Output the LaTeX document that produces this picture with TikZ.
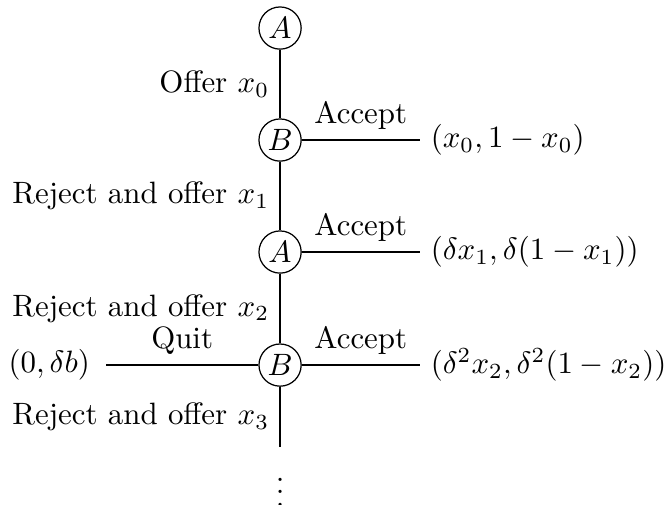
\documentclass[tikz,border=0pt]{standalone}
\usetikzlibrary{positioning}

\begin{document}
\begin{tikzpicture}[player/.style={circle,draw,inner sep=0pt,minimum size=0.48cm}]
		
		\useasboundingbox (-3.186,0.319) rectangle (4.379,-5.415);
		
		\node[player] (a0) at (0,0) {$A$};
		
		\node[player] (b1) at (0,-1.274) {$B$};
		
		\node[player] (a2) at (0,-2.548) {$A$};
		
		\node[player] (b3) at (0,-3.834) {$B$};
		
		\coordinate (tail) at (0,-4.767);
		
		\node[anchor=base,inner sep=0pt] (dots) at (0,-5.44) {$\vdots$};
		
		\draw (a0) -- node[left] {Offer $x_0$} (b1);
		
		\draw (b1) -- node[left] {Reject and offer $x_1$} (a2);
		
		\draw (a2) -- node[left] {Reject and offer $x_2$} (b3);
		
		\draw (b3) -- node[left] {Reject and offer $x_3$} (tail);
		
		\node[right] (p1) at (1.59,-1.274) {$(x_0,1-x_0)$};
		
		\node[right] (p2) at (1.59,-2.548) {$(\delta x_1,\delta(1-x_1))$};
		
		\node[right] (p3) at (1.59,-3.834) {$(\delta^2 x_2,\delta^2(1-x_2))$};
		
		\node[left,inner sep=5pt] (q3) at (-1.98,-3.834) {$(0,\delta b)$};
		
		\draw (b1) -- node[above] {Accept} (p1);
		
		\draw (a2) -- node[above] {Accept} (p2);
		
		\draw (b3) -- node[above] {Accept} (p3);
		
		\draw (q3) -- node[above] {Quit} (b3);
		
	\end{tikzpicture}
\end{document}
